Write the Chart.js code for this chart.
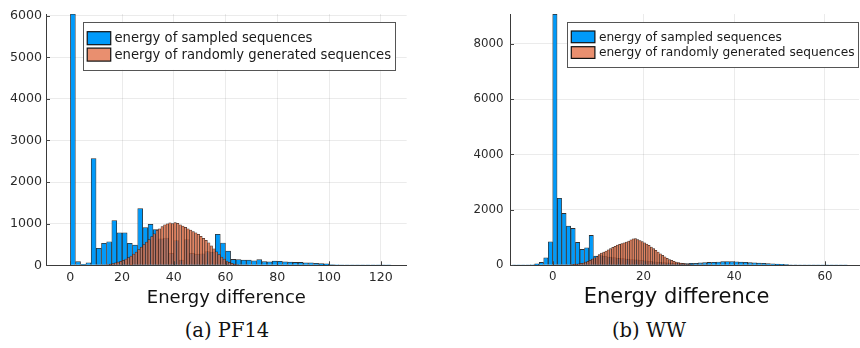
<!DOCTYPE html>
<html>
<head>
<meta charset="utf-8">
<script src="https://cdn.jsdelivr.net/npm/chart.js@4.4.0/dist/chart.umd.min.js"></script>
<style>
  html, body { margin: 0; padding: 0; background: #fff; }
  #wrap { position: relative; width: 860px; height: 348px; overflow: hidden; }
  .panel { position: absolute; top: 0; height: 312px; }
  #pf { left: 0; width: 416px; }
  #ww { left: 430px; width: 430px; }
  .cap { position: absolute; top: 319px; font-family: "DejaVu Serif", serif; font-size: 19.5px;
         color: #111; transform: translateX(-50%); white-space: nowrap; }
</style>
</head>
<body>
<div id="wrap">
  <div class="panel" id="pf"><canvas id="cpf"></canvas></div>
  <div class="panel" id="ww"><canvas id="cww"></canvas></div>
  <div class="cap" style="left:227px">(a) PF14</div>
  <div class="cap" style="left:649px">(b) WW</div>
</div>
<script>
// ---- PF14: histogram counts, bins given by start + width ----
const pfSampledStart = 0, pfSampledWidth = 2;
const pfSampled = [
  6040, 90, 25, 65, 2570, 410, 530, 570, 1080, 785,
  785, 530, 490, 1365, 910, 990, 860, 640, 660, 290,
  600, 130, 620, 290, 270, 280, 330, 320, 750, 540,
  345, 144, 140, 128, 128, 112, 140, 90, 88, 104,
  100, 88, 80, 72, 72, 64, 62, 52, 46, 36,
  22, 15, 9, 7, 5, 4, 3, 2, 2, 1,
  1, 1
];
const pfRandomStart = 10, pfRandomWidth = 1;
const pfRandom = [
  4, 6, 10, 15, 22, 32, 45, 60, 78, 98,
  122, 150, 185, 225, 270, 320, 380, 440, 500, 560,
  620, 690, 760, 840, 880, 930, 975, 1000, 1020, 1005,
  1030, 1010, 975, 945, 915, 880, 850, 815, 780, 745,
  700, 650, 600, 540, 470, 400, 325, 260, 200, 150,
  105, 72, 48, 30, 18, 11, 6, 3, 2
];
const pfXTicks = [0, 20, 40, 60, 80, 100, 120];
const pfYTicks = [0, 1000, 2000, 3000, 4000, 5000, 6000];

// ---- WW ----
const wwSampledStart = -9, wwSampledWidth = 1;
const wwSampled = [
  2, 3, 5, 12, 24, 60, 108, 277, 854, 9070,
  2420, 1878, 1420, 1336, 830, 578, 638, 1083, 340, 360,
  330, 300, 280, 260, 245, 230, 210, 200, 185, 170,
  150, 130, 115, 100, 90, 82, 76, 72, 70, 72,
  80, 90, 100, 108, 115, 125, 135, 142, 135, 128,
  120, 110, 100, 94, 85, 76, 66, 56, 46, 36,
  29, 23, 18, 14, 11, 8, 6, 5, 4, 3,
  2, 2, 1, 1
];
const wwRandomStart = 0, wwRandomWidth = 0.5;
const wwRandom = [
  1, 2, 3, 5, 7, 10, 14, 19, 26, 34,
  44, 56, 70, 86, 120, 150, 185, 225, 270, 320,
  390, 440, 480, 520, 565, 610, 650, 690, 730, 760,
  790, 815, 845, 875, 920, 960, 965, 935, 895, 860,
  815, 770, 720, 665, 605, 545, 480, 420, 360, 305,
  255, 210, 185, 150, 120, 100, 85, 70, 55, 42,
  32, 24, 18, 13, 9, 6, 4, 3, 2, 1
];
const wwXTicks = [0, 20, 40, 60];
const wwYTicks = [0, 2000, 4000, 6000, 8000];

const seriesLabels = ['energy of sampled sequences', 'energy of randomly generated sequences'];
const xTitle = 'Energy difference';

const BLUE = 'rgb(0,154,250)';
const ORANGE = 'rgba(227,111,71,0.78)';
const EDGE = 'rgba(10,10,10,0.85)';
const FONT = '"DejaVu Sans", sans-serif';

Chart.defaults.font.family = FONT;
Chart.defaults.color = '#2a2a2a';

function toBins(start, width, counts) {
  return counts.map((c, i) => ({ x: start + (i + 0.5) * width, y: c })).filter(p => p.y > 0);
}

// smallest spacing between any two bar centres on the shared x scale
function minGap(sets) {
  const xs = [...new Set(sets.flat().map(p => p.x))].sort((a, b) => a - b);
  let g = Infinity;
  for (let i = 1; i < xs.length; i++) g = Math.min(g, xs[i] - xs[i - 1]);
  return g;
}

// boxed legend inside the plot area, top right
const boxLegend = {
  id: 'boxLegend',
  afterDraw(chart, args, o) {
    const { ctx, chartArea } = chart;
    const ds = chart.data.datasets.slice().sort((a, b) => a.legendRank - b.legendRank);
    ctx.save();
    ctx.font = `${o.fontSize}px ${FONT}`;
    const tw = Math.max(...ds.map(d => ctx.measureText(d.label).width));
    const w = o.padL + o.swW + o.gap + tw + o.padR;
    const h = o.padT + ds.length * o.rowH + o.padB;
    const x0 = chartArea.right - o.right - w;
    const y0 = chartArea.top + o.top;
    ctx.fillStyle = '#fff';
    ctx.fillRect(x0, y0, w, h);
    ctx.strokeStyle = '#555';
    ctx.lineWidth = 1;
    ctx.strokeRect(Math.round(x0) + 0.5, Math.round(y0) + 0.5, Math.round(w), Math.round(h));
    ds.forEach((d, i) => {
      const cy = y0 + o.padT + (i + 0.5) * o.rowH;
      const sx = x0 + o.padL;
      ctx.fillStyle = d.backgroundColor;
      ctx.fillRect(sx, cy - o.swH / 2, o.swW, o.swH);
      ctx.strokeStyle = '#111';
      ctx.lineWidth = 1.2;
      ctx.strokeRect(sx, cy - o.swH / 2, o.swW, o.swH);
      ctx.fillStyle = '#1a1a1a';
      ctx.textBaseline = 'middle';
      ctx.textAlign = 'left';
      ctx.fillText(d.label, sx + o.swW + o.gap, cy + 0.5);
    });
    ctx.restore();
  }
};

// x-axis title under the plot area, with an optional sideways shift
const axisTitle = {
  id: 'axisTitle',
  afterDraw(chart, args, o) {
    const { ctx, chartArea } = chart;
    ctx.save();
    ctx.font = `${o.size}px ${FONT}`;
    ctx.fillStyle = '#111';
    ctx.textAlign = 'center';
    ctx.textBaseline = 'middle';
    ctx.fillText(o.text, (chartArea.left + chartArea.right) / 2 + o.shift, o.y);
    ctx.restore();
  }
};

// short inward tick marks on both axes
const innerTicks = {
  id: 'innerTicks',
  afterDatasetsDraw(chart) {
    const { ctx, chartArea: a, scales } = chart;
    ctx.save();
    ctx.strokeStyle = '#444';
    ctx.lineWidth = 1;
    ctx.beginPath();
    scales.x.ticks.forEach(t => {
      const px = Math.round(scales.x.getPixelForValue(t.value)) + 0.5;
      ctx.moveTo(px, a.bottom); ctx.lineTo(px, a.bottom - 4);
    });
    scales.y.ticks.forEach(t => {
      const py = Math.round(scales.y.getPixelForValue(t.value)) + 0.5;
      ctx.moveTo(a.left, py); ctx.lineTo(a.left + 4, py);
    });
    ctx.stroke();
    ctx.restore();
  }
};

function makeHist(id, c) {
  const sampled = toBins(c.sStart, c.sWidth, c.sampled);
  const random = toBins(c.rStart, c.rWidth, c.random);
  const gap = minGap([sampled, random]);
  const intTick = v => String(v);
  return new Chart(document.getElementById(id), {
    type: 'bar',
    data: {
      datasets: [
        { label: seriesLabels[0], data: sampled, legendRank: 0, order: 2,
          backgroundColor: BLUE, borderColor: EDGE, borderWidth: 0.8, inflateAmount: 0.2,
          grouped: false, categoryPercentage: 1, barPercentage: c.sWidth / gap },
        { label: seriesLabels[1], data: random, legendRank: 1, order: 1,
          backgroundColor: ORANGE, borderColor: EDGE, borderWidth: 0.5, inflateAmount: 0.25,
          grouped: false, categoryPercentage: 1, barPercentage: c.rWidth / gap }
      ]
    },
    options: {
      responsive: true,
      maintainAspectRatio: false,
      animation: false,
      layout: { padding: { left: 0, right: c.padRight, top: 14, bottom: 0 } },
      plugins: {
        legend: { display: false },
        tooltip: { enabled: false },
        boxLegend: c.legend,
        axisTitle: { text: xTitle, size: c.titleSize, shift: c.titleShift, y: c.titleY }
      },
      scales: {
        x: {
          type: 'linear', offset: false, min: c.xMin, max: c.xMax,
          afterBuildTicks: s => { s.ticks = c.xTicks.map(v => ({ value: v })); },
          afterFit: s => { s.height = c.xAxisH; },
          ticks: { callback: intTick, padding: c.xTickPad, maxRotation: 0,
                   font: { size: c.tickSize }, color: '#2a2a2a' },
          grid: { color: 'rgba(0,0,0,0.08)', lineWidth: 1, drawTicks: false, offset: false },
          border: { display: true, color: '#3a3a3a', width: 1 }
        },
        y: {
          type: 'linear', min: 0, max: c.yMax,
          afterBuildTicks: s => { s.ticks = c.yTicks.map(v => ({ value: v })); },
          afterFit: s => { s.width = c.yAxisW; },
          ticks: { callback: intTick, padding: c.yTickPad, font: { size: c.tickSize }, color: '#2a2a2a' },
          grid: { color: 'rgba(0,0,0,0.08)', lineWidth: 1, drawTicks: false },
          border: { display: true, color: '#3a3a3a', width: 1 }
        }
      }
    },
    plugins: [innerTicks, boxLegend, axisTitle]
  });
}

makeHist('cpf', {
  sStart: pfSampledStart, sWidth: pfSampledWidth, sampled: pfSampled,
  rStart: pfRandomStart, rWidth: pfRandomWidth, random: pfRandom,
  xMin: -9.4, xMax: 130, yMax: 6040, xTicks: pfXTicks, yTicks: pfYTicks,
  padRight: 9.3, yAxisW: 46, xAxisH: 46.7, yTickPad: 4, xTickPad: 5,
  tickSize: 12.6, titleSize: 18, titleShift: 0, titleY: 298,
  legend: { fontSize: 13.2, right: 11.7, top: 8, padL: 4, swW: 23.5, swH: 13, gap: 3.7,
            padR: 4, padT: 8, rowH: 16.4, padB: 7 }
});

makeHist('cww', {
  sStart: wwSampledStart, sWidth: wwSampledWidth, sampled: wwSampled,
  rStart: wwRandomStart, rWidth: wwRandomWidth, random: wwRandom,
  xMin: -9.4, xMax: 67.5, yMax: 9072, xTicks: wwXTicks, yTicks: wwYTicks,
  padRight: 1, yAxisW: 80, xAxisH: 46.7, yTickPad: 6.5, xTickPad: 5,
  tickSize: 11.8, titleSize: 21, titleShift: -8, titleY: 297.5,
  legend: { fontSize: 12.2, right: 0.5, top: 8, padL: 4, swW: 23.6, swH: 11.7, gap: 4,
            padR: 4, padT: 7, rowH: 15.7, padB: 7 }
});
</script>
</body>
</html>
